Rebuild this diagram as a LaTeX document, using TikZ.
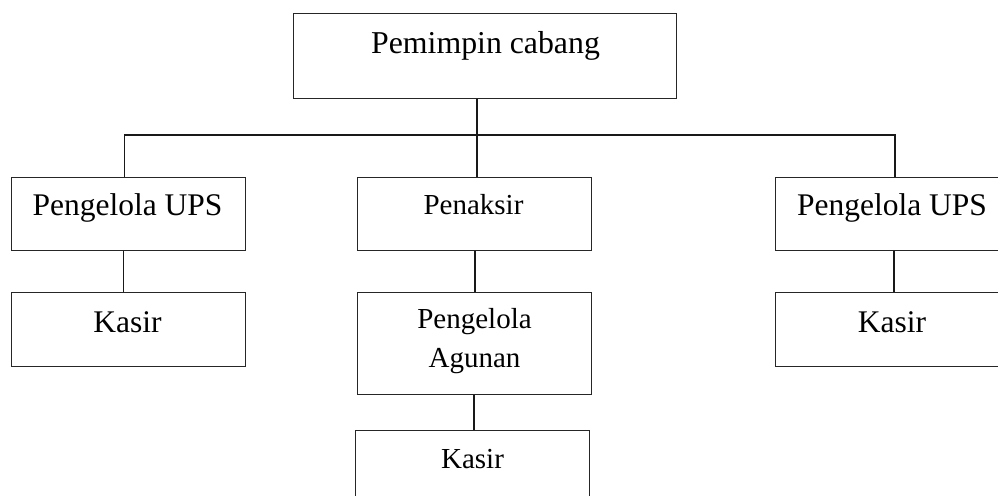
\documentclass[tikz,border=0pt]{standalone}
\usepackage{fontspec}
\setmainfont{Liberation Serif}
\begin{document}
\begin{tikzpicture}[x=1pt,y=-1pt,
  box/.style={draw=black!85, line width=1pt, rectangle, inner sep=0pt, minimum width=234.5, minimum height=73},
  conn/.style={draw=black!90, line width=1.1pt},
  big/.style={anchor=base, inner sep=0pt, font=\fontsize{31.5}{36}\selectfont},
  sml/.style={anchor=base, inner sep=0pt, font=\fontsize{29}{34}\selectfont}]
\clip (0,0) rectangle (998,495);
\fill[white] (0,0) rectangle (998,495);
% boxes
\node[box, minimum width=382.5, minimum height=84] (top) at (484.75,56) {};
\node[box] (ups1) at (128.25,213.5) {};
\node[box, minimum width=234] (pen) at (474,213.5) {};
\node[box] (ups2) at (893,213.5) {};
\node[box, minimum height=74] (kas1) at (128.25,329) {};
\node[box, minimum width=234, minimum height=102] (aga) at (474,343) {};
\node[box, minimum width=234] (kas2) at (472.5,466.5) {};
\node[box, minimum height=74] (kas3) at (893,329) {};
% texts
\node[big, font=\fontsize{31.8}{36}\selectfont] (ttop) at (485.5,54) {Pemimpin cabang};
\node[big] (tups1) at (127.5,215) {Pengelola UPS};
\node[sml] (tpen) at (473.5,214) {Penaksir};
\node[big] (tups2) at (892,215) {Pengelola UPS};
\node[big] (tkas1) at (127.5,332) {Kasir};
\node[sml] (taga1) at (474.5,328) {Pengelola};
\node[sml] (taga2) at (474.5,367) {Agunan};
\node[sml] (tkas2) at (472.5,468) {Kasir};
\node[big] (tkas3) at (892,332) {Kasir};
% connector helper coordinates
\coordinate (bus) at (477,135);
\coordinate (bL) at (124.5,135);
\coordinate (bR) at (895,135);
\coordinate (m1) at (475,0);
\coordinate (m2) at (474,0);
\coordinate (l1) at (123.5,0);
\coordinate (r1) at (894,0);
% connectors
\draw[conn] (top.south -| bus) -- (pen.north -| bus);
\draw[conn] (ups1.north -| bL) -- (bL) -- (bR) -- (ups2.north -| bR);
\draw[conn] (ups1.south -| l1) -- (kas1.north -| l1);
\draw[conn] (pen.south -| m1) -- (aga.north -| m1);
\draw[conn] (aga.south -| m2) -- (kas2.north -| m2);
\draw[conn] (ups2.south -| r1) -- (kas3.north -| r1);
\end{tikzpicture}
\end{document}
